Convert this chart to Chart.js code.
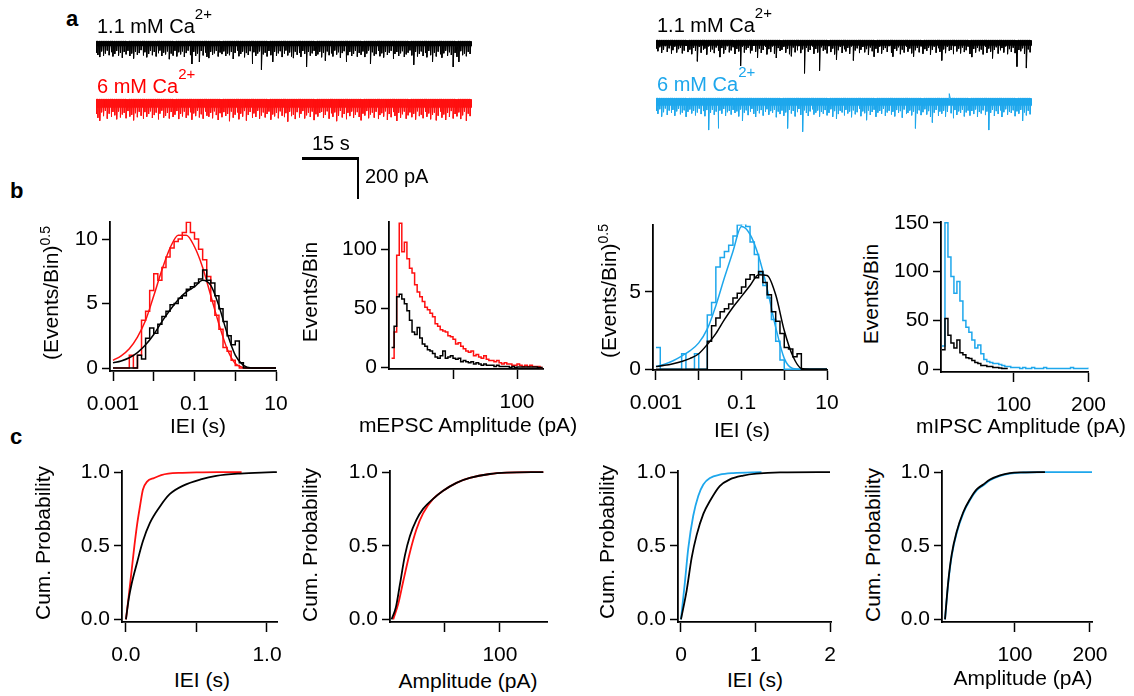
<!DOCTYPE html>
<html>
<head>
<meta charset="utf-8">
<script src="https://cdn.jsdelivr.net/npm/chart.js@4/dist/chart.umd.min.js"></script>
<style>
  body { margin: 0; background: #fff; }
  #fig { position: relative; width: 1134px; height: 696px; overflow: hidden;
         font-family: 'Liberation Sans', Arial, sans-serif; color: #000; }
  #fig canvas { position: absolute; }
  .t { position: absolute; white-space: nowrap; font-size: 21px; line-height: 1; }
  .t sup { font-size: 14px; vertical-align: 0.55em; line-height: 0; }
  .tr { font-size: 20px; }
  .tr sup { font-size: 15px; vertical-align: 0.9em; }
  .yt { transform: translate(-50%, -50%) rotate(-90deg); }
  .xt { transform: translateX(-50%); }
  .lab { font-weight: bold; font-size: 22px; }
  .bar { position: absolute; background: #000; }
</style>
</head>
<body>
<div id="fig">
  <canvas id="trBlackL"></canvas>
  <canvas id="trRed"></canvas>
  <canvas id="trBlackR"></canvas>
  <canvas id="trBlue"></canvas>
  <canvas id="b1"></canvas>
  <canvas id="b2"></canvas>
  <canvas id="b3"></canvas>
  <canvas id="b4"></canvas>
  <canvas id="c1"></canvas>
  <canvas id="c2"></canvas>
  <canvas id="c3"></canvas>
  <canvas id="c4"></canvas>

  <div class="t lab" style="left:66px;top:8px">a</div>
  <div class="t lab" style="left:10px;top:180px">b</div>
  <div class="t lab" style="left:10px;top:426px">c</div>

  <div class="t tr" style="left:97px;top:14px">1.1 mM Ca<sup>2+</sup></div>
  <div class="t tr" style="left:97px;top:74px;color:#f00">6 mM Ca<sup>2+</sup></div>
  <div class="t tr" style="left:657px;top:13px">1.1 mM Ca<sup>2+</sup></div>
  <div class="t tr" style="left:657px;top:72px;color:#1ea7ec">6 mM Ca<sup>2+</sup></div>

  <div class="bar" style="left:302px;top:157px;width:57px;height:2.5px"></div>
  <div class="bar" style="left:356.5px;top:157px;width:2.5px;height:42px"></div>
  <div class="t tr" style="left:312px;top:133px">15 s</div>
  <div class="t tr" style="left:365px;top:166px">200 pA</div>

  <div class="t yt" style="left:50px;top:293px">(Events/Bin)<sup>0.5</sup></div>
  <div class="t yt" style="left:309px;top:292px">Events/Bin</div>
  <div class="t yt" style="left:608px;top:291px">(Events/Bin)<sup>0.5</sup></div>
  <div class="t yt" style="left:870px;top:294px">Events/Bin</div>
  <div class="t xt" style="left:198px;top:415px">IEI (s)</div>
  <div class="t xt" style="left:468px;top:414px">mEPSC Amplitude (pA)</div>
  <div class="t xt" style="left:742px;top:419px">IEI (s)</div>
  <div class="t xt" style="left:1021px;top:415px">mIPSC Amplitude (pA)</div>

  <div class="t yt" style="left:42px;top:543px">Cum. Probability</div>
  <div class="t yt" style="left:309px;top:545px">Cum. Probability</div>
  <div class="t yt" style="left:606px;top:542px">Cum. Probability</div>
  <div class="t yt" style="left:872px;top:545px">Cum. Probability</div>
  <div class="t xt" style="left:202px;top:669px">IEI (s)</div>
  <div class="t xt" style="left:468px;top:670px">Amplitude (pA)</div>
  <div class="t xt" style="left:755px;top:669px">IEI (s)</div>
  <div class="t xt" style="left:1023px;top:667px">Amplitude (pA)</div>
</div>

<script>
// ---- panel a: event amplitudes (pA, downward) per 0.5 s slot ----
const eventStep = 0.5;
const blackLeftAmps = [
  55, 65, 75, 48, 70, 58, 44, 66, 52, 72, 60, 46, 68, 55, 78, 50, 62, 45, 70, 58,
  82, 50, 64, 56, 42, 68, 52, 76, 60, 46, 66, 50, 72, 57, 44, 70, 54, 62, 48, 85,
  58, 68, 45, 72, 52, 62, 48, 74, 56, 44, 66, 108, 50, 70, 58, 98, 46, 67, 54, 74,
  80, 50, 64, 57, 45, 72, 53, 61, 48, 70, 58, 66, 50, 84, 55, 45, 71, 60, 49, 76,
  56, 65, 47, 108, 52, 69, 58, 48, 135, 62, 54, 72, 46, 66, 98, 50, 70, 57, 47, 75,
  59, 44, 67, 53, 72, 80, 49, 64, 56, 74, 46, 60, 122, 51, 68, 57, 45, 70, 62, 50,
  76, 54, 92, 48, 66, 58, 72, 44, 63, 52, 78, 56, 47, 98, 66, 50, 70, 60, 45, 73,
  55, 64, 48, 75, 58, 44, 108, 52, 68, 61, 46, 71, 57, 77, 50, 65, 54, 45, 84, 60,
  51, 70, 57, 47, 74, 62, 54, 43, 67, 112, 50, 72, 59, 48, 70, 56, 76, 46, 66, 98,
  54, 72, 49, 62, 78, 57, 45, 69, 52, 65, 122, 55, 74, 98, 47, 66, 58, 71, 50, 60
];
const redAmps = [
  70, 88, 102, 62, 80, 55, 92, 68, 84, 60, 76, 95, 58, 86, 72, 64, 90, 56, 82, 74,
  100, 66, 85, 59, 78, 93, 61, 83, 70, 57, 89, 75, 63, 96, 68, 54, 87, 79, 65, 91,
  60, 84, 73, 56, 94, 69, 81, 58, 88, 76, 62, 97, 67, 80, 55, 86, 71, 92, 59, 78,
  83, 64, 90, 57, 75, 98, 66, 85, 61, 79, 70, 104, 58, 87, 73, 63, 95, 68, 82, 56,
  101, 74, 60, 89, 67, 84, 55, 93, 77, 62, 86, 70, 58, 97, 72, 81, 64, 90, 57, 78,
  85, 66, 106, 59, 80, 73, 94, 61, 87, 69, 56, 91, 76, 63, 84, 58, 99, 71, 82, 65,
  60, 88, 74, 57, 92, 67, 83, 62, 104, 78, 55, 86, 70, 95, 64, 80, 58, 89, 73, 61,
  84, 100, 68, 77, 56, 90, 72, 63, 87, 59, 94, 75, 66, 82, 57, 98, 70, 85, 61, 79,
  103, 64, 88, 71, 58, 92, 76, 62, 85, 69, 96, 57, 80, 73, 90, 60, 83, 67, 95, 74,
  63, 100, 78, 59, 87, 72, 98, 65, 84, 56, 91, 70, 81, 62, 94, 76, 58, 102, 68, 80
];
const blackRightAmps = [
  40, 52, 33, 60, 45, 28, 55, 38, 64, 47, 30, 58, 42, 35, 62, 49, 27, 56, 44, 66,
  36, 51, 100, 31, 59, 46, 39, 68, 29, 54, 43, 61, 34, 50, 80, 37, 63, 45, 28, 57,
  48, 33, 65, 41, 53, 122, 30, 58, 44, 36, 62, 49, 27, 55, 84, 39, 60, 46, 32, 67,
  42, 56, 29, 63, 84, 37, 51, 45, 31, 59, 40, 66, 76, 34, 57, 48, 28, 61, 43, 157,
  35, 54, 46, 30, 64, 41, 58, 145, 33, 50, 44, 62, 28, 56, 39, 67, 92, 47, 31, 60,
  43, 53, 36, 65, 29, 96, 48, 38, 61, 45, 32, 57, 42, 69, 34, 52, 78, 40, 59, 30,
  63, 46, 37, 55, 28, 60, 78, 41, 50, 33, 66, 44, 58, 31, 54, 39, 62, 78, 47, 36,
  57, 29, 64, 42, 51, 35, 68, 45, 30, 59, 38, 55, 96, 43, 61, 32, 50, 46, 66, 28,
  53, 40, 62, 34, 56, 47, 30, 65, 80, 41, 58, 36, 52, 44, 67, 31, 60, 39, 54, 86,
  45, 33, 63, 48, 37, 58, 29, 66, 42, 55, 35, 61, 125, 46, 52, 38, 64, 132, 43, 57
];
const blueAmps = [
  60, 74, 52, 87, 66, 48, 79, 58, 70, 55, 83, 62, 50, 76, 68, 57, 88, 64, 53, 72,
  59, 81, 67, 49, 75, 61, 85, 56, 151, 69, 54, 78, 63, 143, 58, 73, 51, 84, 66, 60,
  77, 55, 70, 62, 86, 53, 108, 68, 57, 80, 64, 50, 74, 89, 59, 71, 56, 82, 65, 52,
  78, 61, 69, 54, 90, 63, 75, 58, 83, 67, 143, 55, 72, 60, 86, 66, 51, 79, 159, 57,
  70, 84, 62, 53, 77, 68, 58, 87, 64, 73, 56, 81, 69, 52, 88, 61, 98, 75, 59, 67,
  82, 55, 72, 63, 90, 57, 76, 66, 50, 85, 62, 71, 104, 58, 79, 65, 54, 88, 68, 60,
  74, 51, 83, 67, 59, 78, 64, 86, 56, 70, 61, 92, 53, 75, 69, 58, 81, 63, 143, 72,
  57, 80, 66, 52, 77, 61, 89, 115, 68, 55, 84, 63, 73, 59, 87, 64, -22, 71, 95, 56,
  79, 62, 70, 54, 86, 67, 58, 82, 60, 75, 53, 88, 65, 72, 57, 80, 63, 151, 69, 55,
  84, 61, 74, 58, 89, 66, 52, 78, 64, 70, 57, 85, 62, 73, 55, 108, 67, 81, 59, 76
];
// baseline noise band thickness (pA)
const noiseBlackL = 24, noiseRed = 40, noiseBlackR = 26, noiseBlue = 35;

// ---- panel b: IEI histograms, log bins of 0.1 decade from 1 ms ----
const ieiBinStartLog = -3, ieiBinWidthLog = 0.1;
const redIeiHist = [0, 0, 0, 0, 1.0, 0, 1.0, 3.7, 4.4, 6.0, 7.3, 6.8, 7.8, 8.6, 9.3, 9.8, 10.0, 10.5, 11.3, 10.5,
  10.0, 9.2, 8.4, 7.1, 5.2, 4.1, 3.0, 1.6, 1.3, 0.6, 0.2, 0, 0, 0, 0, 0, 0, 0, 0, 0];
const blackIeiHistE = [0, 0, 0, 0, 0, 0, 1.0, 0.7, 2.3, 3.1, 2.7, 3.4, 4.0, 4.4, 4.9, 5.0, 5.4, 5.6, 6.1, 6.3,
  6.6, 6.9, 7.6, 6.8, 6.6, 5.6, 4.6, 3.6, 2.5, 1.8, 2.1, 0.4, 0, 0, 0, 0, 0, 0, 0, 0];
const blueIeiHist = [1.4, 0, 0, 0, 0, 0, 1.0, 0, 0, 1.0, 0, 0, 3.5, 4.3, 6.6, 7.2, 7.6, 8.0, 8.6, 9.3,
  9.4, 9.2, 8.2, 7.4, 6.2, 5.4, 4.6, 3.2, 1.8, 0.6, 0, 0, 0, 0, 0, 0, 0, 0, 0, 0];
const blackIeiHistI = [0, 0, 0, 0, 0, 0, 0, 0, 0, 0, 0, 0, 1.8, 2.8, 3.3, 3.7, 3.9, 4.2, 4.6, 4.9,
  5.3, 5.8, 6.1, 5.9, 6.3, 5.6, 4.8, 3.7, 3.1, 2.3, 1.4, 1.3, 0.8, 1.0, 0, 0, 0, 0, 0, 0];
// fitted curves sampled every 0.2 decade
const fitLogX = [-3, -2.8, -2.6, -2.4, -2.2, -2, -1.8, -1.6, -1.4, -1.2, -1, -0.8, -0.6, -0.4, -0.2, 0, 0.2, 0.4, 0.6, 0.8, 1];
const redIeiFit = [0.6, 0.95, 1.5, 2.4, 3.7, 5.6, 7.6, 9.3, 10.3, 10.3, 9.4, 7.8, 5.6, 3.4, 1.5, 0.35, 0.05, 0, 0, 0, 0];
const blackIeiFitE = [0.4, 0.55, 0.8, 1.2, 1.8, 2.6, 3.6, 4.5, 5.3, 5.9, 6.3, 6.8, 6.4, 4.8, 2.7, 1.0, 0.2, 0, 0, 0, 0];
const blueIeiFit = [0.17, 0.33, 0.55, 0.85, 1.2, 1.7, 2.6, 4.1, 5.9, 7.6, 9.2, 8.7, 7.3, 5.2, 2.7, 0.7, 0.05, 0, 0, 0, 0];
const blackIeiFitI = [0.17, 0.25, 0.36, 0.5, 0.7, 1.0, 1.6, 2.3, 3.2, 4.0, 4.7, 5.4, 6.1, 6.05, 4.8, 2.5, 0.85, 0.05, 0, 0, 0];

// amplitude histograms
const epscBinStart = 2, epscBinWidth = 2;
const redEpscHist = [8, 30, 95, 122, 98, 106, 92, 84, 80, 70, 64, 60, 56, 51, 49, 46, 43, 37, 35, 32,
  31, 30, 27, 26, 24, 20, 21, 18, 16, 14, 13, 14, 10, 11, 9, 8, 10, 7, 6, 6,
  5, 6, 4, 3, 4, 3, 3, 2, 2, 3, 2, 1, 2, 1, 2, 1, 1, 1, 0];
const blackEpscHist = [17, 35, 60, 62, 58, 54, 48, 40, 30, 28, 34, 25, 20, 18, 15, 14, 12, 9, 8, 10,
  14, 8, 9, 10, 8, 7, 8, 5, 6, 5, 4, 5, 3, 4, 3, 2, 3, 2, 2, 2,
  1, 2, 1, 1, 1, 1, 0, 1, 0, 0.5, 0.5, 0.5, 0.5, 0.5, 0.5, 0.5, 0.5, 0, 0];
const ipscBinStart = 4, ipscBinWidth = 4;
const blueIpscHist = [24, 150, 115, 95, 78, 90, 70, 50, 43, 38, 30, 22, 25, 16, 10, 8, 7, 6, 6, 5,
  4, 3, 3, 2, 2, 2, 1, 2, 1, 1, 2, 1, 1, 1, 2, 1, 1, 1, 1, 1, 1, 1, 1, 2, 1, 1, 1, 1, 1, 2];
const blackIpscHist = [20, 52, 35, 27, 22, 30, 17, 15, 12, 11, 9, 7, 6, 4, 4, 3, 3, 2, 2, 1.5, 1, 1];

// ---- panel c: cumulative distributions ----
const c1RedX = [0, 0.02, 0.04, 0.06, 0.08, 0.10, 0.12, 0.15, 0.2, 0.25, 0.3, 0.4, 0.5, 0.65, 0.82];
const c1RedY = [0, 0.16, 0.33, 0.5, 0.65, 0.77, 0.88, 0.935, 0.96, 0.98, 0.99, 0.995, 0.998, 1.0, 1.0];
const c1BlackX = [0, 0.02, 0.04, 0.08, 0.12, 0.17, 0.24, 0.31, 0.41, 0.53, 0.64, 0.81, 1.0, 1.07];
const c1BlackY = [0, 0.14, 0.24, 0.39, 0.53, 0.655, 0.765, 0.85, 0.91, 0.95, 0.974, 0.99, 0.998, 1.0];
const c2BlackX = [2.7, 6.6, 10.2, 14.7, 19.2, 25, 31, 40, 49, 61, 73, 91, 106, 139];
const c2BlackY = [0, 0.083, 0.237, 0.434, 0.566, 0.675, 0.75, 0.818, 0.873, 0.927, 0.96, 0.987, 0.996, 1.0];
const c2RedX = [4.2, 8.7, 13.2, 19.2, 25, 31, 40, 49, 61, 73, 91, 106, 139];
const c2RedY = [0, 0.105, 0.259, 0.456, 0.61, 0.72, 0.818, 0.873, 0.927, 0.96, 0.987, 0.996, 1.0];
const c3BlueX = [0, 0.054, 0.098, 0.165, 0.232, 0.3, 0.39, 0.52, 0.7, 1.08];
const c3BlueY = [0, 0.26, 0.483, 0.705, 0.838, 0.916, 0.96, 0.982, 0.993, 1.0];
const c3BlackX = [0, 0.076, 0.143, 0.21, 0.3, 0.39, 0.52, 0.656, 0.835, 1.01, 1.33, 2.0];
const c3BlackY = [0, 0.195, 0.417, 0.572, 0.716, 0.805, 0.905, 0.95, 0.976, 0.989, 0.998, 1.0];
const c4BlackX = [6.7, 11.1, 15.6, 22.2, 31, 40, 48.9, 57.8, 66.7, 80, 93, 111, 140];
const c4BlackY = [0, 0.26, 0.44, 0.594, 0.727, 0.816, 0.882, 0.916, 0.949, 0.978, 0.993, 0.998, 1.0];
const c4BlueX = [6.7, 11.1, 15.6, 22.2, 31, 40, 48.9, 57.8, 66.7, 80, 93, 111, 140, 204];
const c4BlueY = [0, 0.25, 0.43, 0.585, 0.72, 0.81, 0.875, 0.91, 0.944, 0.974, 0.99, 0.997, 1.0, 1.0];

// ---- tick values and labels ----
const ieiTicks = [0.001, 0.01, 0.1, 1, 10];
const ieiTickLabels = ['0.001', '', '0.1', '', '10'];
const histTicksE = [0, 50, 100], histTicksI = [0, 50, 100, 150];
const fitTicksE = [0, 5, 10], fitTicksI = [0, 5];
const ampTicks = [50, 100], ampTickLabels = ['', '100'];
const ampTicksI = [100, 200];
const cumTicks = [0, 0.5, 1], cumTickLabels = ['0.0', '0.5', '1.0'];
const c1Ticks = [0, 0.5, 1], c1TickLabels = ['0.0', '', '1.0'];
const c3Ticks = [0, 1, 2];

const BLACK = '#000', RED = '#ff1010', BLUE = '#1ea7ec';
const FONT = "'Liberation Sans', Arial, sans-serif";
const ML = 55, MR = 28, MT = 12, MB = 45;

function place(id, box) {
  const c = document.getElementById(id);
  const [l, t, r, b] = box;
  c.width = r - l + ML + MR;
  c.height = b - t + MT + MB;
  c.style.left = (l - ML) + 'px';
  c.style.top = (t - MT) + 'px';
  return c;
}

function axis(o, side) {
  const labels = o.labels || o.ticks.map(String);
  const isX = side === 'x';
  return {
    type: o.type || 'linear', min: o.min, max: o.max,
    afterFit: s => { if (isX) s.height = MB; else s.width = ML; },
    afterBuildTicks: s => { s.ticks = o.ticks.map(v => ({ value: v })); },
    grid: { drawOnChartArea: false, drawTicks: true, tickLength: isX ? 10 : 8, tickWidth: 1.5, tickColor: BLACK },
    border: { display: true, color: BLACK, width: 1.8 },
    ticks: { autoSkip: false, maxRotation: 0, color: BLACK, padding: isX ? 11 : 4,
             font: { family: FONT, size: 21 }, callback: (v, i) => labels[i] }
  };
}

function plot(id, box, x, y, datasets) {
  return new Chart(place(id, box), {
    type: 'line',
    data: { datasets },
    options: {
      responsive: false, animation: false, devicePixelRatio: 1,
      layout: { padding: { top: MT, right: MR, left: 0, bottom: 0 } },
      plugins: { legend: { display: false }, tooltip: { enabled: false } },
      scales: { x: axis(x, 'x'), y: axis(y, 'y') }
    }
  });
}

const step = (data, color) => ({ data, borderColor: color, borderWidth: 1.5, pointRadius: 0, stepped: 'before' });
const smooth = (data, color, w) => ({ data, borderColor: color, borderWidth: w || 1.5, pointRadius: 0, cubicInterpolationMode: 'monotone' });

function linBins(start, width, vals) {
  const pts = vals.map((v, i) => ({ x: start + i * width, y: v }));
  pts.push({ x: start + vals.length * width, y: vals[vals.length - 1] });
  return pts;
}
function logBins(vals) {
  const pts = vals.map((v, i) => ({ x: 10 ** (ieiBinStartLog + i * ieiBinWidthLog), y: v }));
  pts.push({ x: 10 ** (ieiBinStartLog + vals.length * ieiBinWidthLog), y: vals[vals.length - 1] });
  return pts;
}
const logFit = vals => vals.map((v, i) => ({ x: 10 ** fitLogX[i], y: v }));
const xy = (xs, ys) => xs.map((x, i) => ({ x, y: ys[i] }));

// ---- traces ----
const TRACE_W = 376, TRACE_H = 40, traceLen = 100, traceMin = -165, traceMax = 25;
function trace(id, left, top, amps, color, noise) {
  const c = document.getElementById(id);
  c.width = TRACE_W; c.height = TRACE_H;
  c.style.left = left + 'px'; c.style.top = top + 'px';
  const pts = amps.flatMap((a, i) => [
    { x: i * eventStep, y: 0 }, { x: i * eventStep, y: -a }, { x: i * eventStep + 0.25, y: 0 }]);
  const pxPerPA = TRACE_H / (traceMax - traceMin);
  new Chart(c, {
    type: 'line',
    data: { datasets: [
      { data: pts, borderColor: color, borderWidth: 1, pointRadius: 0 },
      { data: [{ x: 0, y: -noise / 2 }, { x: traceLen, y: -noise / 2 }], borderColor: color,
        borderWidth: noise * pxPerPA, pointRadius: 0 }
    ] },
    options: {
      responsive: false, animation: false, devicePixelRatio: 1,
      layout: { padding: 0 },
      plugins: { legend: { display: false }, tooltip: { enabled: false } },
      scales: {
        x: { type: 'linear', display: false, min: 0, max: traceLen },
        y: { display: false, min: traceMin, max: traceMax }
      }
    }
  });
}

trace('trBlackL', 96, 36, blackLeftAmps, BLACK, noiseBlackL);
trace('trRed', 96, 94, redAmps, RED, noiseRed);
trace('trBlackR', 656, 35, blackRightAmps, BLACK, noiseBlackR);
trace('trBlue', 656, 93, blueAmps, BLUE, noiseBlue);

// ---- panel b ----
plot('b1', [110, 217, 276, 371],
  { type: 'logarithmic', min: 0.000844, max: 10, ticks: ieiTicks, labels: ieiTickLabels },
  { min: -0.23, max: 11.35, ticks: fitTicksE },
  [step(logBins(blackIeiHistE), BLACK), smooth(logFit(blackIeiFitE), BLACK),
   step(logBins(redIeiHist), RED), smooth(logFit(redIeiFit), RED)]);

plot('b2', [389, 217, 543, 369],
  { min: 0, max: 120.3, ticks: ampTicks, labels: ampTickLabels },
  { min: -1.2, max: 123.5, ticks: histTicksE },
  [step(linBins(epscBinStart, epscBinWidth, blackEpscHist), BLACK),
   step(linBins(epscBinStart, epscBinWidth, redEpscHist), RED)]);

plot('b3', [653, 220, 827, 370],
  { type: 'logarithmic', min: 0.000851, max: 10, ticks: ieiTicks, labels: ieiTickLabels },
  { min: -0.05, max: 9.33, ticks: fitTicksI },
  [step(logBins(blackIeiHistI), BLACK), smooth(logFit(blackIeiFitI), BLACK),
   step(logBins(blueIeiHist), BLUE), smooth(logFit(blueIeiFit), BLUE)]);

plot('b4', [941, 217, 1089, 372],
  { min: 2.7, max: 200, ticks: ampTicksI },
  { min: -2.7, max: 151.3, ticks: histTicksI },
  [step(linBins(ipscBinStart, ipscBinWidth, blackIpscHist), BLACK),
   step(linBins(ipscBinStart, ipscBinWidth, blueIpscHist), BLUE)]);

// ---- panel c ----
plot('c1', [122, 466, 277, 622],
  { min: -0.028, max: 1.071, ticks: c1Ticks, labels: c1TickLabels },
  { min: -0.018, max: 1.01, ticks: cumTicks, labels: cumTickLabels },
  [smooth(xy(c1BlackX, c1BlackY), BLACK, 1.8), smooth(xy(c1RedX, c1RedY), RED, 1.8)]);

plot('c2', [390, 466, 547, 622],
  { min: 1.3, max: 142.3, ticks: ampTicks, labels: ampTickLabels },
  { min: -0.018, max: 1.01, ticks: cumTicks, labels: cumTickLabels },
  [smooth(xy(c2BlackX, c2BlackY), BLACK, 1.8), smooth(xy(c2RedX, c2RedY), RED, 1.8)]);

plot('c3', [678, 466, 831, 622],
  { min: -0.04, max: 2.013, ticks: c3Ticks },
  { min: -0.018, max: 1.01, ticks: cumTicks, labels: cumTickLabels },
  [smooth(xy(c3BlackX, c3BlackY), BLACK, 1.8), smooth(xy(c3BlueX, c3BlueY), BLUE, 1.8)]);

plot('c4', [942, 466, 1092, 622],
  { min: 2.7, max: 202.7, ticks: ampTicksI },
  { min: -0.018, max: 1.01, ticks: cumTicks, labels: cumTickLabels },
  [smooth(xy(c4BlackX, c4BlackY), BLACK, 1.8), smooth(xy(c4BlueX, c4BlueY), BLUE, 1.8)]);
</script>
</body>
</html>
